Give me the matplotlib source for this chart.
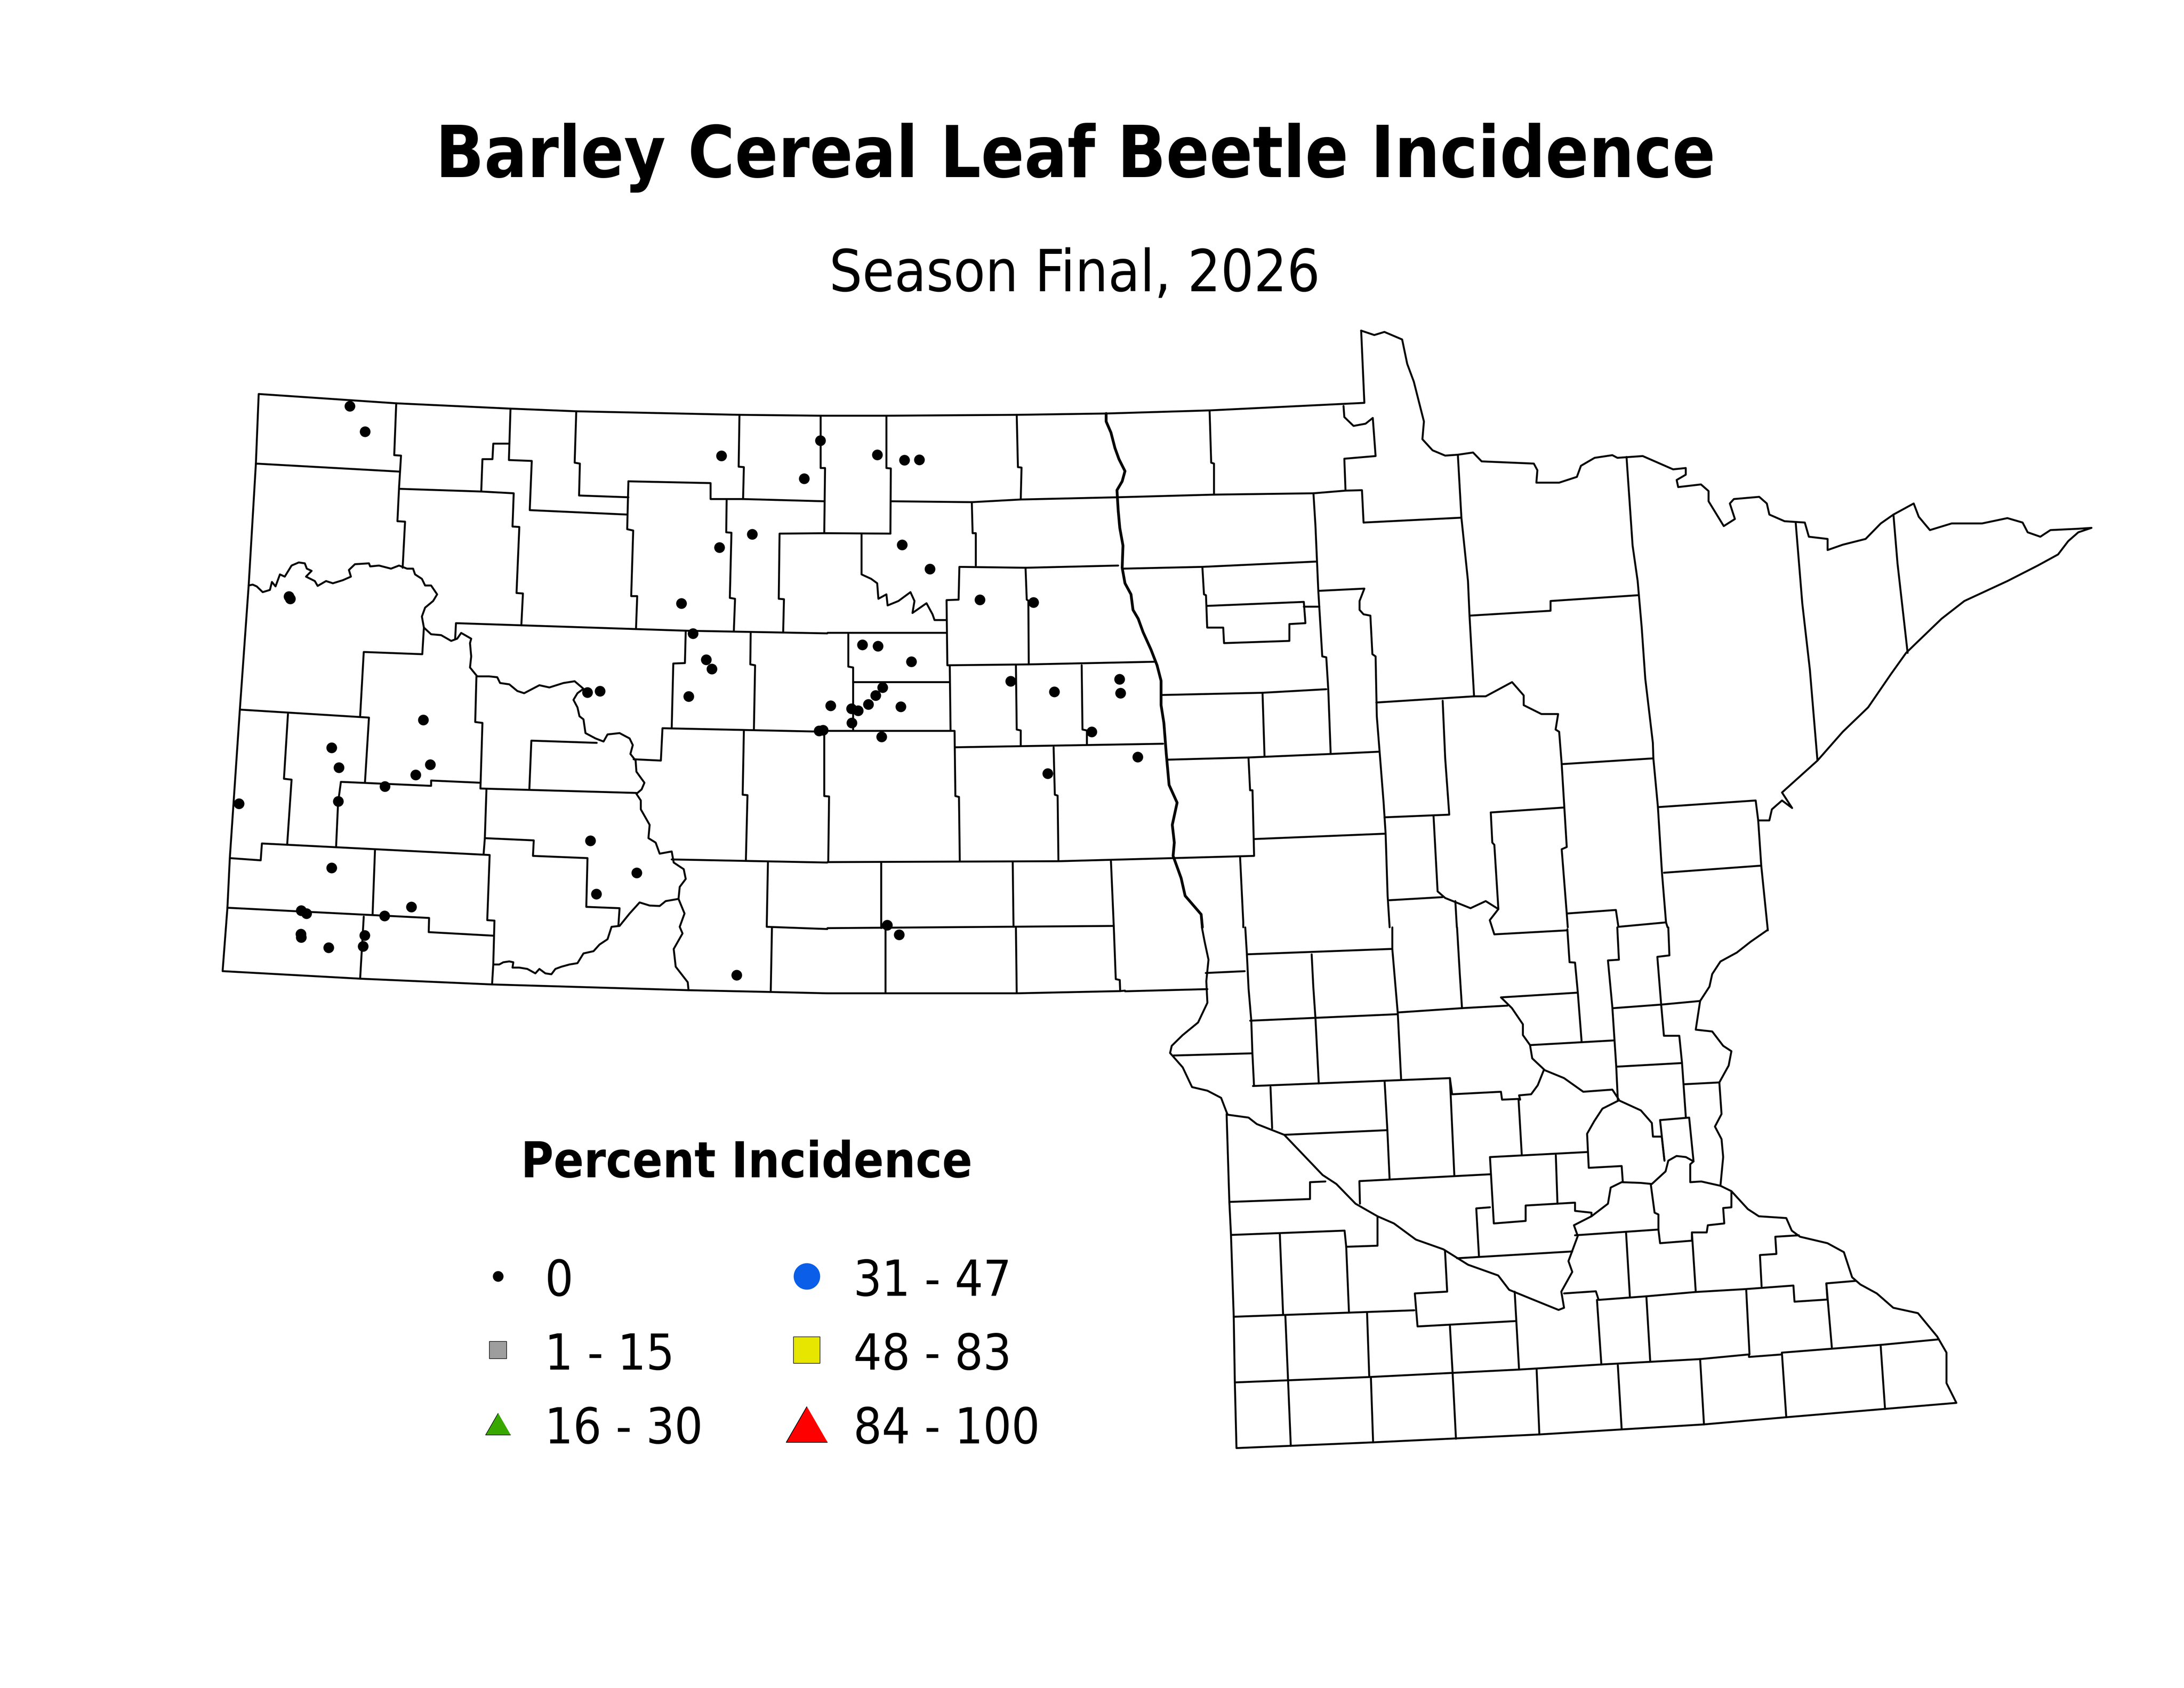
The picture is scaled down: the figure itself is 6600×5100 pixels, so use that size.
import numpy as np
import matplotlib
matplotlib.use("Agg")
import matplotlib.pyplot as plt

title = "Barley Cereal Leaf Beetle Incidence"
subtitle = "Season Final, 2026"
legend_title = "Percent Incidence"
legend_labels = ["0", "1 - 15", "16 - 30", "31 - 47", "48 - 83", "84 - 100"]
legend_colors = ["#000000", "#9E9E9E", "#38A800", "#0A5EE8", "#E6E600", "#FF0000"]

# county lines, traced in four windows of the map (x0, y0, width, height in pixels, 1568 units across)
west_box = (600, 950, 1900, 2100)
west_lines = [
    [(1553,227),(1349,225),(942,217),(778,211),(493,199),(150,178),(143,335),(125,610),(103,890),(78,1225),(72,1337),(60,1480),(403,1497),(732,1510),(1222,1523),(1427,1527),(1568,1530)],
    [(143,335),(500,353)],
    [(493,199),(488,316),(505,317),(500,390),(496,465),(515,466),(509,570)],
    [(503,392),(705,398),(786,402),(783,477),(800,478),(793,627),(809,628),(805,700)],
    [(705,398),(708,325),(733,325),(735,290),(775,290)],
    [(778,211),(774,327),(831,329),(826,440),(1069,450)],
    [(942,217),(938,333),(951,335),(949,407),(1072,411)],
    [(1072,375),(1069,483),(1084,486),(1079,634),(1094,634),(1091,707)],
    [(1072,375),(1277,379),(1277,415),(1358,415),(1560,420)],
    [(1349,225),(1347,342),(1360,343),(1358,415)],
    [(1317,418),(1316,490),(1329,491),(1325,638),(1338,640),(1335,712)],
    [(1568,492),(1449,493),(1447,640),(1460,641),(1458,715)],
    [(125,610),(135,608),(145,612),(160,625),(178,620),(183,602),(192,612),(203,585),(215,590),(232,565),(250,558),(265,560),(270,572),(282,577),(268,590),(290,600),(297,611),(318,600),(335,605),(360,598),(380,590),(375,575),(390,562),(425,560),(428,567),(450,565),(480,572),(500,565),(520,572),(535,572),(540,585),(557,595),(565,610),(580,610),(595,630),(585,645),(565,660),(557,680),(562,705),(580,720),(605,722),(630,735),(645,730),(655,717),(680,730),(677,740),(680,770),(677,795),(695,815),(725,815),(745,817),(752,830),(775,833),(795,848),(812,853),(850,835),(875,840),(910,830),(938,826),(960,843),(945,853),(935,868),(945,885),(950,905),(960,912),(965,943),(990,955),(1010,962),(1020,946),(1050,943),(1075,955),(1083,970),(1077,990),(1090,1005),(1092,1030),(1112,1055),(1105,1070),(1092,1080),(1103,1095),(1103,1115),(1125,1150),(1122,1180),(1140,1190),(1150,1215),(1180,1210),(1185,1235),(1210,1250),(1215,1272),(1200,1290),(1197,1317),(1212,1350),(1200,1380),(1207,1395),(1185,1430),(1190,1470),(1220,1505),(1222,1523)],
    [(735,1465),(750,1465),(760,1460),(775,1458),(785,1460),(783,1472),(800,1472),(820,1475),(840,1485),(850,1475),(865,1485),(880,1487),(890,1475),(905,1470),(925,1465),(945,1462),(960,1440),(985,1435),(1000,1420),(1020,1408),(1030,1380),(1050,1378),(1075,1350),(1100,1325),(1125,1332),(1150,1333),(1165,1322),(1197,1317)],
    [(562,705),(558,765),(412,760),(403,905)],
    [(103,890),(425,908),(415,1055)],
    [(223,900),(213,1046),(232,1048),(221,1195)],
    [(640,730),(642,695),(1215,712),(1213,785),(1184,786),(1180,932)],
    [(1215,712),(1568,718)],
    [(693,815),(690,918),(708,920),(703,1068)],
    [(343,1200),(348,1100),(355,1053),(580,1062),(580,1050),(703,1055)],
    [(703,1068),(1092,1078)],
    [(825,1070),(830,960),(993,965)],
    [(1085,1002),(1153,1005),(1157,932),(1568,940)],
    [(1360,938),(1357,1082),(1369,1083),(1365,1230)],
    [(1180,1228),(1568,1235)],
    [(1385,936),(1388,790),(1376,788),(1377,716)],
    [(718,1070),(714,1180),(711,1215)],
    [(78,1225),(155,1230),(158,1192),(726,1218),(720,1365),(738,1366),(735,1465),(732,1510)],
    [(440,1208),(434,1353)],
    [(72,1337),(575,1360),(574,1392),(735,1400)],
    [(412,1357),(403,1497)],
    [(714,1180),(836,1185),(834,1220),(970,1225),(967,1335),(1050,1338),(1047,1378)],
    [(1420,1235),(1417,1380),(1568,1385)],
    [(1430,1383),(1427,1527)],
]

centre_box = (2400, 950, 1900, 2100)
centre_lines = [
    [(66,227),(230,227),(555,225),(778,222),(1036,215),(1422,198),(1414,35)],
    [(66,227),(66,345),(77,345),(75,492),(240,493)],
    [(230,227),(230,345),(241,346),(240,493)],
    [(242,420),(443,422),(445,492),(453,492),(453,565)],
    [(443,422),(565,416),(805,411),(1047,405),(1295,402),(1375,396),(1416,395),(1420,468)],
    [(555,225),(558,343),(567,344),(565,416)],
    [(1036,215),(1040,333),(1047,335),(1047,405)],
    [(168,493),(168,585),(192,595),(207,605),(210,640),(230,630),(233,655),(260,645),(290,625),(300,645),(295,672),(330,650),(345,675),(350,688),(380,688)],
    [(808,565),(577,570),(412,568),(410,642),(380,643),(382,790),(585,788),(900,782)],
    [(820,572),(1018,568),(1302,556)],
    [(577,570),(580,642),(584,644),(585,788)],
    [(83,717),(378,717)],
    [(135,720),(135,793),(147,795),(147,938)],
    [(147,828),(387,828)],
    [(388,790),(390,938)],
    [(83,938),(400,938),(402,1085),(411,1087),(413,1232)],
    [(75,940),(75,1085),(87,1086),(85,1232)],
    [(402,975),(920,967)],
    [(553,790),(555,935),(565,937),(565,972)],
    [(717,790),(719,935),(730,937),(730,968)],
    [(647,975),(650,1082),(657,1084),(659,1230)],
    [(83,1234),(660,1232),(945,1225),(1147,1220),(1143,1072),(1137,1072),(1133,998)],
    [(918,857),(1168,852),(1327,844)],
    [(1168,852),(1173,995)],
    [(930,1003),(1133,998),(1340,990),(1458,985)],
    [(1147,1182),(1472,1170)],
    [(217,1236),(217,1383)],
    [(228,1383),(228,1530)],
    [(83,1383),(797,1378),(802,1498),(812,1500),(813,1525)],
    [(545,1234),(547,1380)],
    [(553,1382),(555,1530)],
    [(790,1232),(797,1378)],
    [(1112,1222),(1120,1370),(1120,1381)],
    [(83,1530),(228,1530),(555,1530),(813,1525),(825,1524)],
    [(1295,402),(1300,475),(1307,620),(1317,770),(1327,772),(1332,845),(1338,990)],
    [(1018,568),(1022,630),(1027,632),(1030,705),(1070,705),(1072,740),(1235,735),(1235,697),(1275,695),(1271,647),(1030,656)],
    [(1271,658),(1310,658)],
    [(1310,622),(1422,617),(1410,645),(1410,665),(1420,675),(1437,678),(1442,765),(1450,770),(1453,905),(1460,985),(1470,1100),(1475,1170),(1480,1310),(1485,1381)],
    [(1370,205),(1372,230),(1395,250),(1425,245),(1443,232),(1450,318),(1372,324),(1375,396)],
]
# this one reads heavier in the reference, lots of tiny bends
red_river = [(778,222),(778,240),(790,265),(800,300),(810,325),(825,352),(818,375),(805,395),(808,440),(812,480),(820,520),(818,570),(825,605),(840,630),(845,665),(858,685),(870,715),(890,755),(905,790),(915,825),(915,880),(922,920),(928,990),(935,1060),(955,1100),(943,1150),(948,1190),(945,1220),(965,1270),(975,1310),(1015,1352),(1018,1381)]

north_box = (4000, 950, 2400, 2100)
north_lines = [
    [(74,35),(100,45),(120,38),(155,55),(165,110),(178,150),(198,240),(195,280),(215,305),(240,317),(265,315),(295,310),(312,330),(415,335),(422,350),(420,378),(465,378),(500,365),(508,340),(535,322),(570,316),(580,322),(630,318),(690,348),(715,345),(715,360),(697,372),(700,388),(745,382),(760,397),(760,420),(790,476),(812,460),(802,425),(810,415),(860,410),(875,425),(880,450),(910,465),(950,468),(958,500),(995,505),(995,530),(1025,518),(1070,505),(1100,470),(1125,450),(1165,425),(1175,455),(1197,485),(1240,470),(1300,470),(1350,458),(1380,468),(1390,490),(1415,500),(1435,485),(1490,482),(1516,480),(1490,490),(1470,510),(1450,540),(1410,565),(1350,600),(1265,645),(1220,685),(1150,762),(1120,810),(1075,885),(1025,940),(975,1005),(905,1077),(925,1112),(905,1095),(885,1115),(880,1140),(858,1140)],
    [(265,315),(272,457),(285,600),(288,678),(297,860)],
    [(79,468),(272,457)],
    [(288,678),(448,667),(448,645),(620,632)],
    [(598,320),(610,520),(620,600),(628,705),(635,820),(650,965),(651,1000),(660,1110),(668,1258),(676,1370),(679,1381)],
    [(932,468),(945,650),(960,800),(975,1005)],
    [(1125,450),(1133,560),(1153,762)],
    [(297,860),(320,860),(372,828),(395,858),(395,880),(430,900),(463,900),(458,935),(465,940),(470,1013),(480,1200),(470,1205),(480,1350),(482,1381)],
    [(104,874),(297,860)],
    [(470,1013),(651,1000)],
    [(660,1110),(853,1095),(858,1140),(864,1242),(877,1388)],
    [(672,1258),(864,1242)],
    [(480,1350),(577,1342),(582,1380),(676,1370)],
    [(330,1122),(473,1111)],
    [(330,1122),(333,1190),(337,1195),(345,1340),(328,1365),(337,1397),(480,1388)],
    [(235,870),(240,1000),(248,1127),(120,1133)],
    [(217,1130),(225,1300),(240,1315),(290,1338),(320,1322),(345,1340)],
    [(130,1320),(235,1313)],
    [(260,1322),(263,1381)],
]

south_box = (3400, 2800, 2600, 1700)
south_lines = [
    [(140,0),(145,40),(152,90),(148,150),(150,210),(133,265),(105,300),(85,330),(82,350),(105,390),(122,445),(150,455),(175,475),(185,515),(187,522),(225,530),(240,548),(290,578),(335,650),(360,690),(385,715),(420,770),(460,805),(490,825),(530,870),(580,897),(625,940),(680,970),(700,1010),(740,1035),(790,1066),(800,1060),(795,1015),(815,960),(808,930),(825,860),(818,830),(850,805),(880,770),(885,725),(905,710),(940,712),(960,715),(985,680),(990,650),(1005,637),(1022,640),(1036,652)],
    [(219,0),(222,75),(225,170),(230,260),(232,350),(235,442)],
    [(222,75),(485,60)],
    [(487,0),(487,60),(492,150),(497,240),(503,422)],
    [(340,75),(343,165),(347,255),(350,345),(353,435)],
    [(228,260),(495,242)],
    [(605,0),(610,130),(614,225)],
    [(497,237),(614,225),(697,218)],
    [(806,5),(810,97),(820,98),(825,180),(832,318)],
    [(990,0),(992,78),(970,82),(977,215),(982,302),(1010,302),(1015,378),(1022,530)],
    [(897,0),(900,90),(880,92),(888,222),(895,385),(898,480)],
    [(890,225),(978,215),(1048,205)],
    [(897,388),(1015,378)],
    [(1020,437),(1083,432)],
    [(1171,7),(1140,40),(1115,70),(1085,95),(1070,130),(1065,165),(1048,205),(1040,285),(1070,290),(1090,330),(1105,345),(1100,385),(1083,432),(1087,520),(1075,555),(1087,590),(1090,640),(1085,720),(1105,735),(1135,785),(1155,805),(1205,810),(1215,845),(1230,862),(1280,880),(1310,905),(1325,975),(1340,995),(1370,1020),(1400,1060),(1445,1075),(1480,1140),(1497,1185),(1497,1270),(1515,1325),(1205,1365),(1055,1385),(755,1413),(452,1435),(203,1451),(200,1268),(198,1085),(193,857),(190,765),(185,520)],
    [(823,182),(685,195),(705,225),(725,270),(725,300),(738,328),(742,365),(765,398),(800,420),(835,458),(888,452),(900,480)],
    [(738,328),(890,315)],
    [(763,398),(752,440),(740,465),(718,468),(720,480)],
    [(233,442),(592,420),(596,465),(685,458),(687,480),(717,478),(723,635)],
    [(473,430),(478,565),(482,700)],
    [(265,445),(268,560)],
    [(290,578),(478,565)],
    [(592,420),(600,690)],
    [(665,640),(842,626)],
    [(665,640),(672,825),(730,818),(730,775),(820,767),(820,790),(850,795),(850,805)],
    [(785,635),(788,770)],
    [(900,482),(870,505),(855,540),(842,575),(845,670),(905,665),(907,708)],
    [(900,482),(940,510),(960,545),(962,583),(978,583),(983,650)],
    [(975,537),(1028,530),(1036,652),(1030,660),(1030,710),(1050,708),(1085,720)],
    [(975,537),(983,650)],
    [(428,770),(427,707),(665,688)],
    [(190,765),(337,757),(337,710),(365,708)],
    [(193,857),(400,845),(403,890),(460,887),(460,808)],
    [(282,855),(288,1080)],
    [(403,890),(408,1072)],
    [(198,1085),(527,1067)],
    [(292,1080),(297,1262)],
    [(441,1075),(445,1253)],
    [(583,900),(587,1015),(528,1020),(533,1112),(712,1097)],
    [(710,1015),(718,1232)],
    [(592,1110),(597,1245)],
    [(665,780),(640,783),(645,918)],
    [(605,922),(815,903)],
    [(820,858),(972,842),(975,880),(1033,873),(1033,850),(1060,850),(1062,830),(1092,825),(1090,782),(1105,780),(1105,735)],
    [(958,715),(965,795),(972,800),(972,842)],
    [(1033,850),(1040,1015)],
    [(913,850),(920,1030)],
    [(800,1020),(858,1014),(863,1038),(950,1028),(1040,1016),(1130,1008),(1218,998),(1220,1043),(1280,1037),(1278,992),(1332,985)],
    [(1132,1010),(1138,1190)],
    [(1160,1000),(1157,913),(1187,910),(1185,862),(1228,858)],
    [(1278,992),(1288,1170)],
    [(950,1028),(957,1208)],
    [(860,1038),(868,1218)],
    [(200,1268),(445,1253),(720,1232),(868,1218),(1048,1203),(1137,1190),(1137,1197),(1197,1190),(1197,1185),(1380,1163),(1483,1148)],
    [(297,1262),(302,1445)],
    [(448,1255),(452,1435)],
    [(597,1245),(603,1425)],
    [(750,1232),(755,1413)],
    [(898,1220),(905,1398)],
    [(1048,1203),(1055,1385)],
    [(1197,1185),(1205,1365)],
    [(1377,1165),(1385,1342)],
    [(147,127),(218,122)],
    [(0,178),(150,172)],
    [(88,357),(230,351)],
]

# survey sites, all in the 0 class
west_sites = [(377,205),(415,263),(1304,317),(1381,494),(1299,524),(225,635),(229,640),(1204,650),(1233,718),(1266,777),(1280,798),(970,851),(1001,848),(1222,860),(560,913),(332,976),(350,1021),(578,1014),(541,1037),(465,1063),(348,1097),(101,1102),(977,1186),(1093,1258),(332,1247),(992,1306),(256,1343),(269,1350),(531,1335),(464,1355),(255,1396),(256,1404),(414,1399),(410,1424),(324,1427),(1342,1489)]
centre_sites = [(65,283),(25,369),(207,315),(275,327),(312,326),(269,518),(338,573),(463,642),(597,648),(170,744),(209,747),(292,782),(811,821),(814,853),(540,826),(649,850),(220,840),(203,858),(185,878),(91,881),(143,888),(159,892),(266,883),(144,920),(62,938),(72,936),(218,951),(742,940),(857,997),(632,1034),(232,1376),(262,1398)]


def to_px(points, box):
    x0, y0, w, h = box
    pts = np.array(points, dtype=float)
    return x0 + pts[:, 0] * w / 1568, y0 + pts[:, 1] * h / 1568 + 2


fig = plt.figure(figsize=(22, 17), dpi=300)
ax = fig.add_axes([0, 0, 1, 1])
ax.set_xlim(0, 6600)
ax.set_ylim(5100, 0)
ax.axis("off")

for lines, box in [(west_lines, west_box), (centre_lines, centre_box), (north_lines, north_box), (south_lines, south_box)]:
    for line in lines:
        xs, ys = to_px(line, box)
        ax.plot(xs, ys, color="black", lw=1.4, solid_joinstyle="round", solid_capstyle="round")
xs, ys = to_px(red_river, centre_box)
ax.plot(xs, ys, color="black", lw=2.0, solid_joinstyle="round", solid_capstyle="round")

for sites, box in [(west_sites, west_box), (centre_sites, centre_box)]:
    xs, ys = to_px(sites, box)
    ax.scatter(xs, ys, s=60, color="black", linewidths=0, zorder=3)

font = ["DejaVu Sans"]
ax.text(3250, 535, title, ha="center", va="baseline", fontsize=51.5, fontweight="bold", family=font, stretch="condensed")
ax.text(3248, 880, subtitle, ha="center", va="baseline", fontsize=42, family=font, stretch="condensed")
ax.text(1574, 3557, legend_title, ha="left", va="baseline", fontsize=36, fontweight="bold", family=font, stretch="condensed")

# legend, two columns of three
tri = [(0, 1.15), (-1, -0.58), (1, -0.58)]
ax.scatter([1505], [3856], s=60, color=legend_colors[0], linewidths=0)
ax.scatter([1505], [4079], s=156, marker="s", color=legend_colors[1], edgecolors="black", linewidths=0.4)
ax.scatter([1505], [4313], s=441, marker=tri, color=legend_colors[2], edgecolors="black", linewidths=0.4)
ax.scatter([2438], [3856], s=368, color=legend_colors[3], linewidths=0)
ax.scatter([2438], [4079], s=368, marker="s", color=legend_colors[4], edgecolors="black", linewidths=0.4)
ax.scatter([2438], [4321], s=1190, marker=tri, color=legend_colors[5], edgecolors="black", linewidths=0.5)

for i, label in enumerate(legend_labels):
    col = i // 3
    row = i % 3
    ax.text([1646, 2579][col], [3915, 4138, 4361][row], label, ha="left", va="baseline",
            fontsize=36, family=font, stretch="condensed")

fig.savefig("out.png", dpi=300, facecolor="white")
